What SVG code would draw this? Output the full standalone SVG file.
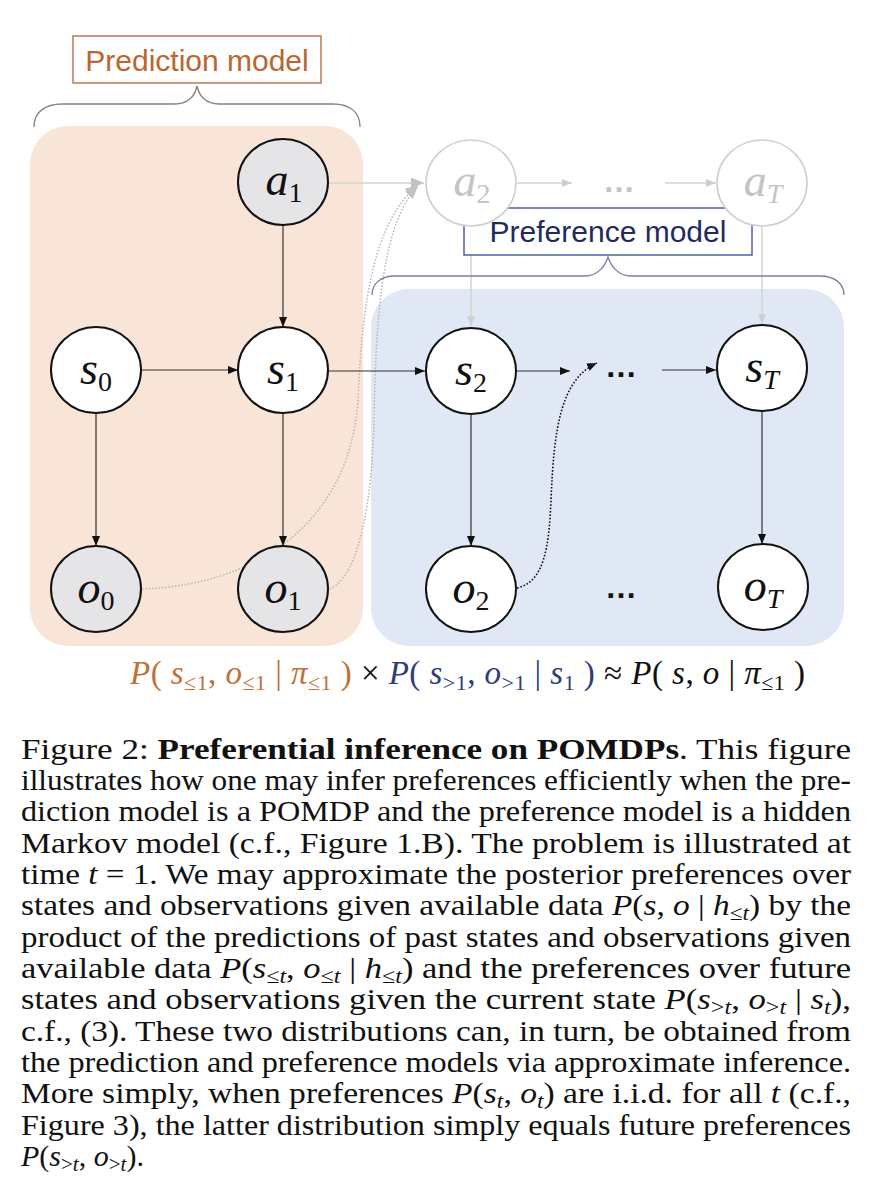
<svg xmlns="http://www.w3.org/2000/svg" width="880" height="1200" viewBox="0 0 880 1200">
<style>
.node{stroke:#111;stroke-width:2}
.obs{fill:#e5e4e7}
.hid{fill:#fff}
.ghost{fill:#fff;stroke:#cfcfcf;stroke-width:1.6}
.lbl{font-family:"Liberation Serif",serif;font-size:46px;fill:#111;text-anchor:middle}
.lbl .m{font-style:italic}
.lbl .s{font-size:28px;font-style:normal}
.lbl .st{font-size:28px;font-style:italic}
.glbl{fill:#c4c4c4}
.edge{stroke:#333;stroke-width:1.2;fill:none}
.gedge{stroke:#d2d2d2;stroke-width:1.4;fill:none}
.gdot{stroke:#b5b5b5;stroke-width:1.5;fill:none;stroke-dasharray:1.5 1.8}
.bdot{stroke:#111;stroke-width:1.6;fill:none;stroke-dasharray:1.6 1.8}
.dots{font-family:"Liberation Sans",sans-serif;font-size:32px;font-weight:bold;text-anchor:middle;fill:#111}
.title{font-family:"Liberation Sans",Arial,sans-serif;font-size:30px}
.cap{font-family:"Liberation Serif",serif;font-size:30px;fill:#111}
.cap .i{font-style:italic}
.cap .sb{font-size:21px}
.fm{font-family:"Liberation Serif",serif;font-size:33px;fill:#111}
.fm .i{font-style:italic}
.fm .fs{font-size:22px}
</style>
<defs>
<marker id="ah" viewBox="0 0 10 10" refX="10" refY="5" markerWidth="10" markerHeight="10" markerUnits="userSpaceOnUse" orient="auto">
<path d="M0,1 L10,5 L0,9 z" fill="#111"/>
</marker>
<marker id="ahg" viewBox="0 0 10 10" refX="10" refY="5" markerWidth="10" markerHeight="10" markerUnits="userSpaceOnUse" orient="auto">
<path d="M0,1 L10,5 L0,9 z" fill="#cfcfcf"/>
</marker>
<marker id="ahg2" viewBox="0 0 12 12" refX="12" refY="6" markerWidth="13" markerHeight="13" markerUnits="userSpaceOnUse" orient="auto">
<path d="M0,1 L12,6 L0,11 z" fill="#c2c2c2"/>
</marker>
</defs>

<g id="backgrounds">
<rect x="30" y="126" width="333" height="520" rx="38" fill="#f8e5d7"/>
<rect x="371" y="289" width="473" height="357" rx="38" fill="#dfe8f4"/>
</g>

<g id="prediction-label">
<rect x="73" y="36" width="248" height="47" fill="#fff" stroke="#b87a50" stroke-width="1.5"/>
<text x="197" y="71" class="title" fill="#b9662f" text-anchor="middle">Prediction model</text>
<path d="M34,127 C34,112 45,104 62,104 L175,104 C188,104 195,96 197,86 C199,96 206,104 219,104 L333,104 C350,104 360,112 360,127" fill="none" stroke="#8f7f74" stroke-width="1.3"/>
</g>

<g id="connectors">
<path class="gdot" d="M142,589 C260,585 350,520 358,400 C362,300 375,220 418,185" marker-end="url(#ahg2)"/>
<path class="gdot" d="M330,589 C360,575 372,500 374,420 C376,300 385,220 418,186" marker-end="url(#ahg2)"/>
<line class="gedge" x1="329" y1="183" x2="424" y2="183" marker-end="url(#ahg2)"/>
<line class="gedge" x1="517" y1="183" x2="572" y2="183" marker-end="url(#ahg)"/>
<line class="gedge" x1="665" y1="183" x2="716" y2="183" marker-end="url(#ahg)"/>
<line class="gedge" x1="471" y1="226" x2="471" y2="326" marker-end="url(#ahg)"/>
<line class="gedge" x1="762" y1="226" x2="762" y2="324" marker-end="url(#ahg)"/>
<line class="edge" x1="283" y1="225" x2="283" y2="327" marker-end="url(#ah)"/>
<line class="edge" x1="141" y1="370" x2="238" y2="370" marker-end="url(#ah)"/>
<line class="edge" x1="329" y1="371" x2="425" y2="371" marker-end="url(#ah)"/>
<line class="edge" x1="516" y1="371" x2="570" y2="371" marker-end="url(#ah)"/>
<line class="edge" x1="662" y1="370" x2="716" y2="370" marker-end="url(#ah)"/>
<line class="edge" x1="96" y1="413" x2="96" y2="546" marker-end="url(#ah)"/>
<line class="edge" x1="283" y1="413" x2="283" y2="546" marker-end="url(#ah)"/>
<line class="edge" x1="471" y1="414" x2="471" y2="546" marker-end="url(#ah)"/>
<line class="edge" x1="762" y1="411" x2="762" y2="544" marker-end="url(#ah)"/>
<path class="bdot" d="M517,588 C545,582 549,545 551,500 C554,430 560,380 597,363" marker-end="url(#ah)"/>
</g>

<g id="preference-label">
<rect x="464" y="208" width="288" height="47" fill="#fff" fill-opacity="0.9" stroke="#4b62a3" stroke-width="1.5"/>
<text x="608" y="242" class="title" fill="#1f2b5e" text-anchor="middle">Preference model</text>
<path d="M372,295 C372,284 380,276 395,276 L585,276 C598,276 605,266 608,257 C611,266 618,276 631,276 L820,276 C835,276 844,284 844,295" fill="none" stroke="#7482a3" stroke-width="1.3"/>
</g>

<g id="a1"><ellipse class="node obs" cx="283" cy="182" rx="45" ry="43"/><text class="lbl" x="284" y="195"><tspan class="m">a</tspan><tspan class="s" dy="7">1</tspan></text></g>
<g id="a2"><ellipse class="ghost" cx="471" cy="183" rx="45" ry="43"/><text class="lbl glbl" x="472" y="196"><tspan class="m">a</tspan><tspan class="s" dy="7">2</tspan></text></g>
<g id="aT"><ellipse class="ghost" cx="762" cy="183" rx="45" ry="43"/><text class="lbl glbl" x="763" y="196"><tspan class="m">a</tspan><tspan class="st" dy="7">T</tspan></text></g>
<g id="s0"><ellipse class="node hid" cx="96" cy="370" rx="45" ry="43"/><text class="lbl" x="96" y="384"><tspan class="m">s</tspan><tspan class="s" dy="7">0</tspan></text></g>
<g id="s1"><ellipse class="node hid" cx="283" cy="370" rx="45" ry="43"/><text class="lbl" x="283" y="384"><tspan class="m">s</tspan><tspan class="s" dy="7">1</tspan></text></g>
<g id="s2"><ellipse class="node hid" cx="471" cy="371" rx="45" ry="43"/><text class="lbl" x="471" y="385"><tspan class="m">s</tspan><tspan class="s" dy="7">2</tspan></text></g>
<g id="sT"><ellipse class="node hid" cx="762" cy="368" rx="45" ry="43"/><text class="lbl" x="762" y="382"><tspan class="m">s</tspan><tspan class="st" dy="7">T</tspan></text></g>
<g id="o0"><ellipse class="node obs" cx="96" cy="589" rx="45" ry="43"/><text class="lbl" x="96" y="603"><tspan class="m">o</tspan><tspan class="s" dy="7">0</tspan></text></g>
<g id="o1"><ellipse class="node obs" cx="283" cy="589" rx="45" ry="43"/><text class="lbl" x="283" y="603"><tspan class="m">o</tspan><tspan class="s" dy="7">1</tspan></text></g>
<g id="o2"><ellipse class="node hid" cx="471" cy="589" rx="45" ry="43"/><text class="lbl" x="471" y="603"><tspan class="m">o</tspan><tspan class="s" dy="7">2</tspan></text></g>
<g id="oT"><ellipse class="node hid" cx="763" cy="587" rx="45" ry="43"/><text class="lbl" x="763" y="601"><tspan class="m">o</tspan><tspan class="st" dy="7">T</tspan></text></g>

<g id="ellipses">
<text class="dots" x="619" y="192" style="fill:#c4c4c4">…</text>
<text class="dots" x="621" y="377">…</text>
<text class="dots" x="621" y="598">…</text>
</g>

<g id="formula">
<text class="fm" x="130" y="684" textLength="675" lengthAdjust="spacing"><tspan fill="#c0703a"><tspan class="i">P</tspan>( <tspan class="i">s</tspan><tspan class="fs" dy="6">≤1</tspan><tspan dy="-6">, </tspan><tspan class="i">o</tspan><tspan class="fs" dy="6">≤1</tspan><tspan dy="-6"> | </tspan><tspan class="i">π</tspan><tspan class="fs" dy="6">≤1</tspan><tspan dy="-6"> )</tspan></tspan><tspan> × </tspan><tspan fill="#2d3d78"><tspan class="i">P</tspan>( <tspan class="i">s</tspan><tspan class="fs" dy="6">&gt;1</tspan><tspan dy="-6">, </tspan><tspan class="i">o</tspan><tspan class="fs" dy="6">&gt;1</tspan><tspan dy="-6"> | </tspan><tspan class="i">s</tspan><tspan class="fs" dy="6">1</tspan><tspan dy="-6"> )</tspan></tspan><tspan> ≈ </tspan><tspan class="i">P</tspan>( <tspan class="i">s</tspan>, <tspan class="i">o</tspan>  | <tspan class="i">π</tspan><tspan class="fs" dy="6">≤1</tspan><tspan dy="-6"> )</tspan></text>
</g>

<g id="caption" class="cap">
<text x="21" y="759" textLength="830" lengthAdjust="spacingAndGlyphs">Figure 2:  <tspan font-weight="bold">Preferential inference on POMDPs</tspan>.  This figure</text>
<text x="21" y="790" textLength="830" lengthAdjust="spacingAndGlyphs">illustrates how one may infer preferences efficiently when the pre-</text>
<text x="21" y="821" textLength="830" lengthAdjust="spacingAndGlyphs">diction model is a POMDP and the preference model is a hidden</text>
<text x="21" y="853" textLength="830" lengthAdjust="spacingAndGlyphs">Markov model (c.f., Figure 1.B). The problem is illustrated at</text>
<text x="21" y="884" textLength="830" lengthAdjust="spacingAndGlyphs">time <tspan class="i">t</tspan> = 1.  We may approximate the posterior preferences over</text>
<text x="21" y="915" textLength="830" lengthAdjust="spacingAndGlyphs">states and observations given available data <tspan class="i">P</tspan>(<tspan class="i">s</tspan>, <tspan class="i">o</tspan> | <tspan class="i">h</tspan><tspan class="sb" dy="5">≤<tspan class="i">t</tspan></tspan><tspan dy="-5">) by the</tspan></text>
<text x="21" y="947" textLength="830" lengthAdjust="spacingAndGlyphs">product of the predictions of past states and observations given</text>
<text x="21" y="978" textLength="830" lengthAdjust="spacingAndGlyphs">available data <tspan class="i">P</tspan>(<tspan class="i">s</tspan><tspan class="sb" dy="5">≤<tspan class="i">t</tspan></tspan><tspan dy="-5">, </tspan><tspan class="i">o</tspan><tspan class="sb" dy="5">≤<tspan class="i">t</tspan></tspan><tspan dy="-5"> | </tspan><tspan class="i">h</tspan><tspan class="sb" dy="5">≤<tspan class="i">t</tspan></tspan><tspan dy="-5">) and the preferences over future</tspan></text>
<text x="21" y="1009" textLength="830" lengthAdjust="spacingAndGlyphs">states and observations given the current state <tspan class="i">P</tspan>(<tspan class="i">s</tspan><tspan class="sb" dy="5">&gt;<tspan class="i">t</tspan></tspan><tspan dy="-5">, </tspan><tspan class="i">o</tspan><tspan class="sb" dy="5">&gt;<tspan class="i">t</tspan></tspan><tspan dy="-5"> | </tspan><tspan class="i">s</tspan><tspan class="sb i" dy="5">t</tspan><tspan dy="-5">),</tspan></text>
<text x="21" y="1041" textLength="830" lengthAdjust="spacingAndGlyphs">c.f., (3).  These two distributions can, in turn, be obtained from</text>
<text x="21" y="1072" textLength="830" lengthAdjust="spacingAndGlyphs">the prediction and preference models via approximate inference.</text>
<text x="21" y="1103" textLength="830" lengthAdjust="spacingAndGlyphs">More simply, when preferences <tspan class="i">P</tspan>(<tspan class="i">s</tspan><tspan class="sb i" dy="5">t</tspan><tspan dy="-5">, </tspan><tspan class="i">o</tspan><tspan class="sb i" dy="5">t</tspan><tspan dy="-5">) are i.i.d.  for all </tspan><tspan class="i">t</tspan> (c.f.,</text>
<text x="21" y="1135" textLength="830" lengthAdjust="spacingAndGlyphs">Figure 3), the latter distribution simply equals future preferences</text>
<text x="21" y="1166"><tspan class="i">P</tspan>(<tspan class="i">s</tspan><tspan class="sb" dy="5">&gt;<tspan class="i">t</tspan></tspan><tspan dy="-5">, </tspan><tspan class="i">o</tspan><tspan class="sb" dy="5">&gt;<tspan class="i">t</tspan></tspan><tspan dy="-5">).</tspan></text>
</g>
</svg>
